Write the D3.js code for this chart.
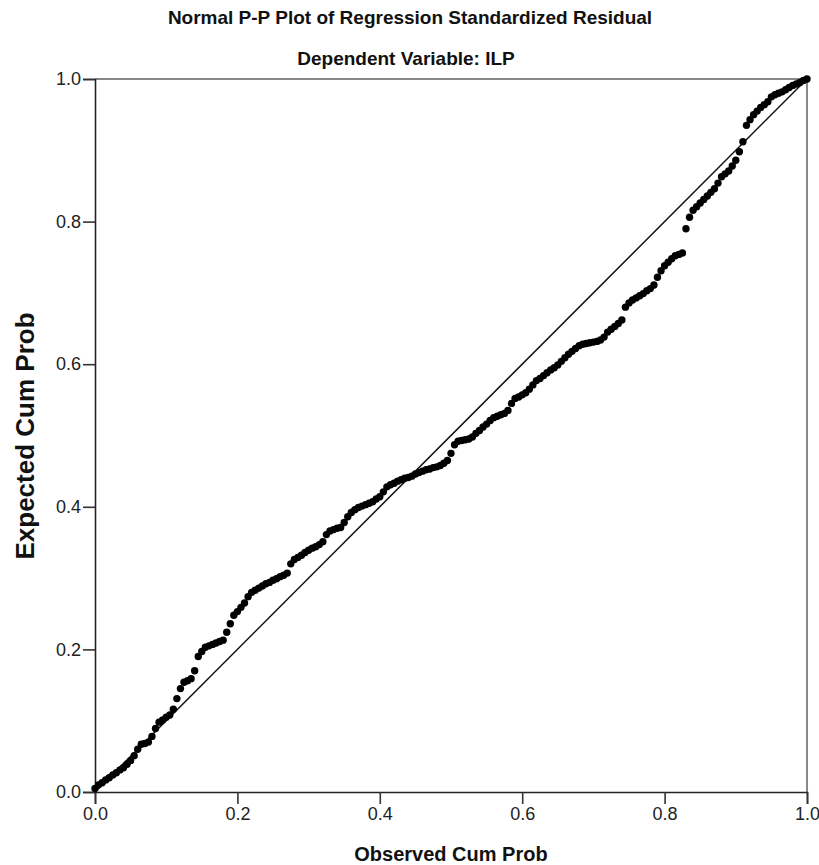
<!DOCTYPE html>
<html>
<head>
<meta charset="utf-8">
<script src="https://cdn.jsdelivr.net/npm/d3@7"></script>
<style>
  body { margin: 0; background: #fff; }
  svg { display: block; font-family: "Liberation Sans", Arial, sans-serif; }
</style>
</head>
<body>
<div id="chart"></div>
<script>
// observed cumulative probability (x) and expected cumulative probability (y)
const observed = [
  0.000, 0.005, 0.010, 0.015, 0.020, 0.025, 0.030, 0.035, 0.040, 0.045,
  0.050, 0.055, 0.060, 0.065, 0.070, 0.075, 0.080, 0.085, 0.090, 0.095,
  0.100, 0.105, 0.110, 0.115, 0.120, 0.125, 0.130, 0.135, 0.140, 0.145,
  0.150, 0.155, 0.160, 0.165, 0.170, 0.175, 0.180, 0.185, 0.190, 0.195,
  0.200, 0.205, 0.210, 0.215, 0.220, 0.225, 0.230, 0.235, 0.240, 0.245,
  0.250, 0.255, 0.260, 0.265, 0.270, 0.275, 0.280, 0.285, 0.290, 0.295,
  0.300, 0.305, 0.310, 0.315, 0.320, 0.325, 0.330, 0.335, 0.340, 0.345,
  0.350, 0.355, 0.360, 0.365, 0.370, 0.375, 0.380, 0.385, 0.390, 0.395,
  0.400, 0.405, 0.410, 0.415, 0.420, 0.425, 0.430, 0.435, 0.440, 0.445,
  0.450, 0.455, 0.460, 0.465, 0.470, 0.475, 0.480, 0.485, 0.490, 0.495,
  0.500, 0.505, 0.510, 0.515, 0.520, 0.525, 0.530, 0.535, 0.540, 0.545,
  0.550, 0.555, 0.560, 0.565, 0.570, 0.575, 0.580, 0.585, 0.590, 0.595,
  0.600, 0.605, 0.610, 0.615, 0.620, 0.625, 0.630, 0.635, 0.640, 0.645,
  0.650, 0.655, 0.660, 0.665, 0.670, 0.675, 0.680, 0.685, 0.690, 0.695,
  0.700, 0.705, 0.710, 0.715, 0.720, 0.725, 0.730, 0.735, 0.740, 0.745,
  0.750, 0.755, 0.760, 0.765, 0.770, 0.775, 0.780, 0.785, 0.790, 0.795,
  0.800, 0.805, 0.810, 0.815, 0.820, 0.825, 0.830, 0.835, 0.840, 0.845,
  0.850, 0.855, 0.860, 0.865, 0.870, 0.875, 0.880, 0.885, 0.890, 0.895,
  0.900, 0.905, 0.910, 0.915, 0.920, 0.925, 0.930, 0.935, 0.940, 0.945,
  0.950, 0.955, 0.960, 0.965, 0.970, 0.975, 0.980, 0.985, 0.990, 0.995,
  1.000
];
const expected = [
  0.005, 0.010, 0.013, 0.017, 0.020, 0.024, 0.027, 0.031, 0.034, 0.039,
  0.044, 0.051, 0.060, 0.067, 0.068, 0.070, 0.078, 0.089, 0.098, 0.101,
  0.105, 0.108, 0.116, 0.131, 0.145, 0.154, 0.156, 0.159, 0.170, 0.190,
  0.197, 0.203, 0.205, 0.207, 0.209, 0.211, 0.213, 0.224, 0.236, 0.248,
  0.253, 0.259, 0.265, 0.274, 0.280, 0.283, 0.286, 0.289, 0.292, 0.294,
  0.297, 0.299, 0.302, 0.304, 0.307, 0.320, 0.326, 0.329, 0.332, 0.336,
  0.339, 0.342, 0.344, 0.347, 0.351, 0.361, 0.366, 0.368, 0.370, 0.371,
  0.378, 0.386, 0.392, 0.396, 0.399, 0.401, 0.403, 0.405, 0.407, 0.411,
  0.414, 0.421, 0.428, 0.431, 0.433, 0.436, 0.438, 0.440, 0.441, 0.443,
  0.446, 0.448, 0.450, 0.452, 0.453, 0.455, 0.456, 0.458, 0.461, 0.465,
  0.475, 0.487, 0.492, 0.493, 0.494, 0.495, 0.498, 0.503, 0.507, 0.512,
  0.516, 0.521, 0.525, 0.527, 0.529, 0.531, 0.535, 0.545, 0.552, 0.554,
  0.557, 0.560, 0.565, 0.571, 0.577, 0.580, 0.584, 0.588, 0.592, 0.595,
  0.599, 0.604, 0.609, 0.614, 0.618, 0.622, 0.626, 0.628, 0.629, 0.630,
  0.631, 0.632, 0.634, 0.638, 0.645, 0.649, 0.653, 0.657, 0.662, 0.680,
  0.686, 0.690, 0.693, 0.696, 0.699, 0.703, 0.706, 0.711, 0.722, 0.731,
  0.738, 0.743, 0.748, 0.752, 0.754, 0.756, 0.790, 0.806, 0.816, 0.821,
  0.826, 0.831, 0.836, 0.841, 0.846, 0.854, 0.863, 0.867, 0.871, 0.878,
  0.886, 0.898, 0.912, 0.935, 0.943, 0.950, 0.955, 0.960, 0.964, 0.968,
  0.975, 0.978, 0.980, 0.982, 0.985, 0.988, 0.991, 0.993, 0.995, 0.998,
  1.000
];
const tickValues = [0, 0.2, 0.4, 0.6, 0.8, 1.0];

const points = observed.map((o, i) => ({ x: o, y: expected[i] }));

const W = 819, H = 865;
const margin = { top: 79, right: 12, bottom: 73, left: 95 };
const width = W - margin.left - margin.right;
const height = H - margin.top - margin.bottom;

const svg = d3.select("#chart").append("svg")
  .attr("width", W)
  .attr("height", H);

svg.append("text")
  .attr("x", 410).attr("y", 24)
  .attr("text-anchor", "middle")
  .attr("font-weight", "bold")
  .attr("font-size", 19)
  .attr("fill", "#111")
  .text("Normal P-P Plot of Regression Standardized Residual");

svg.append("text")
  .attr("x", 406).attr("y", 65)
  .attr("text-anchor", "middle")
  .attr("font-weight", "bold")
  .attr("font-size", 19)
  .attr("fill", "#111")
  .text("Dependent Variable: ILP");

const g = svg.append("g")
  .attr("transform", `translate(${margin.left},${margin.top})`);

const x = d3.scaleLinear().domain([0, 1]).range([0, width]);
const y = d3.scaleLinear().domain([0, 1]).range([height, 0]);

// top and right frame
g.append("path")
  .attr("d", `M0,0H${width}V${height}`)
  .attr("fill", "none")
  .attr("stroke", "#888")
  .attr("stroke-width", 2);

const xAxis = g.append("g")
  .attr("transform", `translate(0,${height})`)
  .call(d3.axisBottom(x).tickValues(tickValues).tickSize(12).tickPadding(3)
    .tickFormat(d3.format(".1f")));

const yAxis = g.append("g")
  .call(d3.axisLeft(y).tickValues(tickValues).tickSize(12).tickPadding(2)
    .tickFormat(d3.format(".1f")));

[xAxis, yAxis].forEach(a => {
  a.select(".domain").attr("stroke", "#222").attr("stroke-width", 1.6);
  a.selectAll(".tick line").attr("stroke", "#333").attr("stroke-width", 1.6);
  a.selectAll(".tick text")
    .attr("font-family", "'Liberation Sans', Arial, sans-serif")
    .attr("font-size", 18)
    .attr("fill", "#222");
});

// reference diagonal
g.append("line")
  .attr("x1", x(0)).attr("y1", y(0))
  .attr("x2", x(1)).attr("y2", y(1))
  .attr("stroke", "#111")
  .attr("stroke-width", 1.5);

g.selectAll(".dot")
  .data(points)
  .enter()
  .append("circle")
  .attr("class", "dot")
  .attr("cx", d => x(d.x))
  .attr("cy", d => y(d.y))
  .attr("r", 3.7)
  .attr("fill", "#000");

svg.append("text")
  .attr("transform", `translate(34,436) rotate(-90)`)
  .attr("text-anchor", "middle")
  .attr("font-weight", "bold")
  .attr("font-size", 26)
  .attr("fill", "#111")
  .text("Expected Cum Prob");

svg.append("text")
  .attr("x", 451).attr("y", 861)
  .attr("text-anchor", "middle")
  .attr("font-weight", "bold")
  .attr("font-size", 20)
  .attr("fill", "#111")
  .text("Observed Cum Prob");
</script>
</body>
</html>
